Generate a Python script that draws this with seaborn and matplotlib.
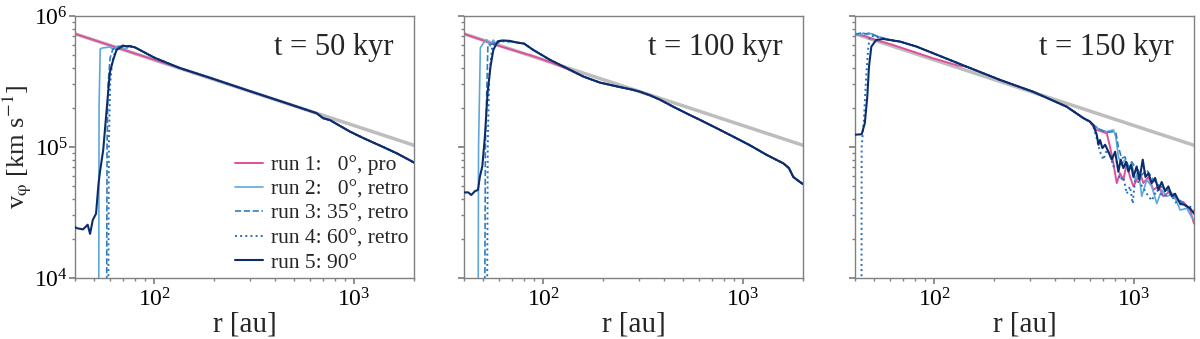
import numpy as np
import pandas as pd
import seaborn as sns
import matplotlib.pyplot as plt
from matplotlib.ticker import LogLocator, NullFormatter

# Keplerian reference line (grey)
r_kep = [40, 2000]
v_kep = [7.3e5, 1.03e5]

# ---------------- t = 50 kyr ----------------
r_disc50 = [80, 100, 134, 190, 300, 450, 650, 700, 760, 850, 955, 1100, 1250, 1400, 1650, 1910, 2000]
v_disc50 = [5.75e5, 4.8e5, 4.0e5, 3.37e5, 2.67e5, 2.18e5, 1.81e5, 1.66e5, 1.6e5, 1.45e5, 1.31e5,
            1.18e5, 1.08e5, 1.0e5, 8.9e4, 7.9e4, 7.6e4]
r1_50 = [40, 50, 60, 70, 80, 100, 134]
v1_50 = [7.3e5, 6.53e5, 5.96e5, 5.52e5, 5.16e5, 4.62e5, 4.0e5]
r2_50 = [52.6, 52.8, 53.5, 55, 58, 60, 62, 65, 68, 71.3, 75]
v2_50 = [5e3, 2e5, 5.6e5, 5.7e5, 5.75e5, 5.8e5, 5.55e5, 5.85e5, 5.9e5, 5.55e5, 5.85e5]
r3_50 = [57.6, 57.9, 58.6, 60, 62, 65, 70, 75]
v3_50 = [5e3, 1e5, 3e5, 4.8e5, 5.6e5, 5.8e5, 5.85e5, 5.9e5]
r4_50 = [58.7, 59.1, 60, 61.5, 64, 68, 72]
v4_50 = [5e3, 1e5, 3e5, 4.5e5, 5.5e5, 5.8e5, 5.9e5]
r5_50 = [40, 40.8, 43.9, 46.3, 47.6, 49.1, 51, 52.5, 53.4, 55.4, 57.6, 59.8, 62.1, 64.6, 67, 69.6, 72, 75]
v5_50 = [2.45e4, 2.4e4, 2.35e4, 2.55e4, 2.17e4, 2.77e4, 3.1e4, 5.3e4, 6.5e4, 9.5e4, 1.9e5, 3.7e5,
         4.6e5, 5.5e5, 5.7e5, 5.95e5, 5.85e5, 5.9e5]

# ---------------- t = 100 kyr ----------------
r_disc100 = [80, 89, 108, 131, 159, 192, 233, 281, 305, 342, 385, 447, 543, 609, 739, 893, 1084, 1315,
             1593, 1700, 1789, 1900, 2000]
v_disc100 = [6.15e5, 5.5e5, 4.62e5, 3.99e5, 3.44e5, 3.1e5, 2.9e5, 2.73e5, 2.64e5, 2.48e5, 2.29e5,
             2.03e5, 1.75e5, 1.61e5, 1.39e5, 1.2e5, 1.03e5, 8.7e4, 7.5e4, 6.9e4, 5.9e4, 5.5e4, 5.2e4]
r1_100 = [40, 50, 60, 70, 90, 110, 131]
v1_100 = [7.3e5, 6.5e5, 5.9e5, 5.5e5, 4.9e5, 4.4e5, 3.95e5]
r2_100 = [47.1, 47.3, 48.3, 50, 52, 54, 56.1, 58.3, 60.6, 64, 70]
v2_100 = [5e3, 1e5, 5.7e5, 6.2e5, 6.6e5, 5.9e5, 6.55e5, 6.0e5, 6.5e5, 6.45e5, 6.35e5]
r3_100 = [50.8, 51.2, 52.7, 55, 58, 62, 70]
v3_100 = [5e3, 1e5, 6.0e5, 6.1e5, 6.3e5, 6.45e5, 6.35e5]
r4_100 = [52.2, 52.6, 53.5, 55.5, 58, 62, 70]
v4_100 = [5e3, 1e5, 3.5e5, 6.0e5, 6.2e5, 6.4e5, 6.35e5]
r5_100 = [40, 42, 43.5, 45.4, 47, 48, 49.4, 50.9, 52.5, 54.3, 56.1, 59, 62.7, 68, 73.4]
v5_100 = [4.5e4, 4.5e4, 4.3e4, 4.6e4, 4.7e4, 5.9e4, 7.1e4, 1.2e5, 2.57e5, 4.1e5, 5.5e5, 6.4e5,
          6.5e5, 6.45e5, 6.27e5]

# ---------------- t = 150 kyr ----------------
r_disc150 = [67.3, 81.5, 98.6, 145, 213, 312, 460, 558, 602]
v_disc150 = [6.37e5, 5.83e5, 5.19e5, 4.1e5, 3.25e5, 2.64e5, 2.03e5, 1.66e5, 1.56e5]
r1_150 = [40, 45, 50, 60, 75, 98.6, 130]
v1_150 = [7.3e5, 7.0e5, 6.6e5, 6.1e5, 5.45e5, 4.75e5, 4.2e5]
r2_150 = [40, 42, 44, 46, 48, 50, 53, 57, 62]
v2_150 = [7.3e5, 7.15e5, 7.4e5, 7.2e5, 7.35e5, 7.1e5, 6.9e5, 6.7e5, 6.5e5]
r3_150 = [40, 42.5, 45, 47.5, 50, 53, 57, 62]
v3_150 = [7.2e5, 7.4e5, 7.3e5, 7.4e5, 7.15e5, 6.9e5, 6.7e5, 6.5e5]
r4_150 = [43.1, 43.2, 44.3, 45.5, 46.5, 47.5, 50, 54, 58, 62]
v4_150 = [5e3, 1.0e5, 1.6e5, 3.44e5, 5.5e5, 7.0e5, 7.0e5, 6.8e5, 6.6e5, 6.5e5]
r5_150 = [40, 43.2, 44.8, 46.1, 47, 48.3, 51.1, 55.4]
v5_150 = [1.24e5, 1.25e5, 1.52e5, 2.42e5, 4.1e5, 5.83e5, 6.56e5, 6.67e5]

# noisy outer parts at t = 150 kyr
r1_out = [626, 651, 690, 731, 759, 789, 820, 852, 885, 920, 956, 994, 1032, 1073, 1115, 1182, 1252,
          1327, 1405, 1517, 1638, 1771, 1911, 2000]
v1_out = [1.43e5, 1.35e5, 1.31e5, 1.27e5, 1.0e5, 7.5e4, 5.3e4, 6.3e4, 5.6e4, 7.5e4, 5.9e4, 5.0e4,
          5.6e4, 6.3e4, 5.3e4, 5.9e4, 4.7e4, 5.0e4, 4.2e4, 4.6e4, 3.9e4, 3.8e4, 3.3e4, 2.6e4]
r2_out = [626, 676, 731, 789, 811, 836, 868, 902, 938, 975, 1013, 1053, 1094, 1159, 1228, 1302, 1378,
          1460, 1577, 1704, 1839, 1950, 2000]
v2_out = [1.47e5, 1.35e5, 1.31e5, 1.35e5, 1.2e5, 8.4e4, 7.3e4, 8.0e4, 6.5e4, 7.5e4, 5.6e4, 6.7e4,
          4.2e4, 5.6e4, 5.0e4, 3.7e4, 4.7e4, 4.2e4, 4.4e4, 3.3e4, 3.4e4, 2.9e4, 2.8e4]
r3_out = [626, 676, 731, 789, 813, 836, 868, 902, 938, 975, 1032, 1094, 1159, 1252, 1352, 1460, 1577,
          1704, 1839, 2000]
v3_out = [1.47e5, 1.36e5, 1.29e5, 1.31e5, 1.27e5, 1.0e5, 8.2e4, 8.4e4, 7.1e4, 7.7e4, 6.7e4, 6.1e4,
          6.7e4, 5.6e4, 5.0e4, 4.7e4, 4.3e4, 3.9e4, 3.5e4, 3.2e4]
r4_out = [626, 651, 676, 703, 731, 759, 789, 820, 852, 885, 920, 956, 986, 1013, 1073, 1159, 1228,
          1302, 1405, 1517, 1638, 1770, 1911, 2000]
v4_out = [1.43e5, 1.16e5, 9.2e4, 8.0e4, 9.5e4, 8.7e4, 7.1e4, 7.7e4, 5.6e4, 5.9e4, 4.4e4, 5.0e4,
          3.7e4, 5.6e4, 5.3e4, 4.4e4, 3.9e4, 4.7e4, 4.2e4, 4.4e4, 3.7e4, 3.6e4, 3.5e4, 3.3e4]
r5_out = [626, 651, 664, 676, 695, 717, 745, 774, 805, 836, 859, 885, 914, 938, 967, 994, 1032, 1065,
          1107, 1142, 1182, 1228, 1277, 1327, 1378, 1432, 1488, 1547, 1607, 1704, 1805, 1911, 2000]
v5_out = [1.47e5, 1.24e5, 1.04e5, 1.13e5, 9.8e4, 1.04e5, 9.2e4, 8.0e4, 9.2e4, 6.5e4, 8.0e4, 6.9e4,
          7.7e4, 6.5e4, 7.3e4, 5.9e4, 7.1e4, 5.6e4, 8.0e4, 5.9e4, 6.3e4, 5.3e4, 5.8e4, 4.7e4, 5.4e4,
          4.6e4, 5.0e4, 4.2e4, 4.4e4, 3.7e4, 3.6e4, 3.4e4, 3.1e4]

labels = ['run 1:   0°, pro', 'run 2:   0°, retro', 'run 3: 35°, retro',
          'run 4: 60°, retro', 'run 5: 90°']
colors = ['#e0509a', '#5fa8dc', '#2f7fc1', '#1f6fc0', '#0c2d6b']
styles = ['-', '-', '--', ':', '-']
widths = [1.4, 1.2, 1.2, 1.4, 1.5]
titles = ['t = 50 kyr', 't = 100 kyr', 't = 150 kyr']


def join(r_in, v_in, r_out, v_out):
    # inner profile followed by the part of the outer profile beyond it
    r = list(r_in) + [x for x in r_out if x > r_in[-1]]
    v = list(v_in) + [y for x, y in zip(r_out, v_out) if x > r_in[-1]]
    return r, v


panels = []
panels.append([join(r1_50, v1_50, r_disc50, v_disc50), join(r2_50, v2_50, r_disc50, v_disc50),
               join(r3_50, v3_50, r_disc50, v_disc50), join(r4_50, v4_50, r_disc50, v_disc50),
               join(r5_50, v5_50, r_disc50, v_disc50)])
panels.append([join(r1_100, v1_100, r_disc100, v_disc100), join(r2_100, v2_100, r_disc100, v_disc100),
               join(r3_100, v3_100, r_disc100, v_disc100), join(r4_100, v4_100, r_disc100, v_disc100),
               join(r5_100, v5_100, r_disc100, v_disc100)])
p3 = []
for ri, vi, ro, vo in [(r1_150, v1_150, r1_out, v1_out), (r2_150, v2_150, r2_out, v2_out),
                       (r3_150, v3_150, r3_out, v3_out), (r4_150, v4_150, r4_out, v4_out),
                       (r5_150, v5_150, r5_out, v5_out)]:
    r, v = join(ri, vi, r_disc150, v_disc150)
    p3.append(join(r, v, ro, vo))
panels.append(p3)

sns.set_theme(style='ticks')
plt.rcParams['font.family'] = ['Liberation Serif', 'DejaVu Serif']
plt.rcParams['mathtext.fontset'] = 'stix'

fig = plt.figure(figsize=(12, 3.39), dpi=100)
lefts = [75 / 1200, 464 / 1200, 855 / 1200]
for i, left in enumerate(lefts):
    ax = fig.add_axes([left, 0.18, 339 / 1200, 0.773])
    sns.lineplot(x=r_kep, y=v_kep, ax=ax, color='#bdbdbd', linewidth=2.5, zorder=1)
    for k, (r, v) in enumerate(panels[i]):
        sns.lineplot(x=r, y=v, ax=ax, color=colors[k], linestyle=styles[k], linewidth=widths[k],
                     sort=False, estimator=None, label=labels[k] if i == 0 else None,
                     legend=False, zorder=2 + k)
    ax.set_xscale('log')
    ax.set_yscale('log')
    ax.set_xlim(40, 2000)
    ax.set_ylim(1e4, 1e6)
    ax.yaxis.set_major_locator(LogLocator(base=10, numticks=5))
    ax.yaxis.set_minor_locator(LogLocator(base=10, subs=np.arange(2, 10), numticks=10))
    ax.xaxis.set_minor_locator(LogLocator(base=10, subs=np.arange(2, 10), numticks=10))
    ax.xaxis.set_minor_formatter(NullFormatter())
    ax.yaxis.set_minor_formatter(NullFormatter())
    for s in ax.spines.values():
        s.set_color('#808080')
        s.set_linewidth(1.0)
    ax.tick_params(which='both', colors='#808080', labelcolor='black', labelsize=17)
    ax.tick_params(which='major', length=4)
    ax.tick_params(which='minor', length=2)
    ax.tick_params(axis='y', pad=1)
    ax.set_xlabel('r [au]', fontsize=21, labelpad=0)
    if i == 0:
        ax.set_ylabel(r'v$_{\mathrm{\varphi}}$ [km s$^{\mathrm{-1}}$]', fontsize=19)
        ax.yaxis.set_label_coords(-0.122, 0.5)
        ax.legend(loc='lower right', frameon=False, fontsize=15.5, handlelength=1.3,
                  labelspacing=0.2, borderpad=0.1, borderaxespad=0.15, handletextpad=0.35)
    else:
        ax.set_yticklabels([])
    ax.text(0.94, 0.88, titles[i], transform=ax.transAxes, ha='right', va='center', fontsize=22)

fig.savefig('out.png', dpi=100)
